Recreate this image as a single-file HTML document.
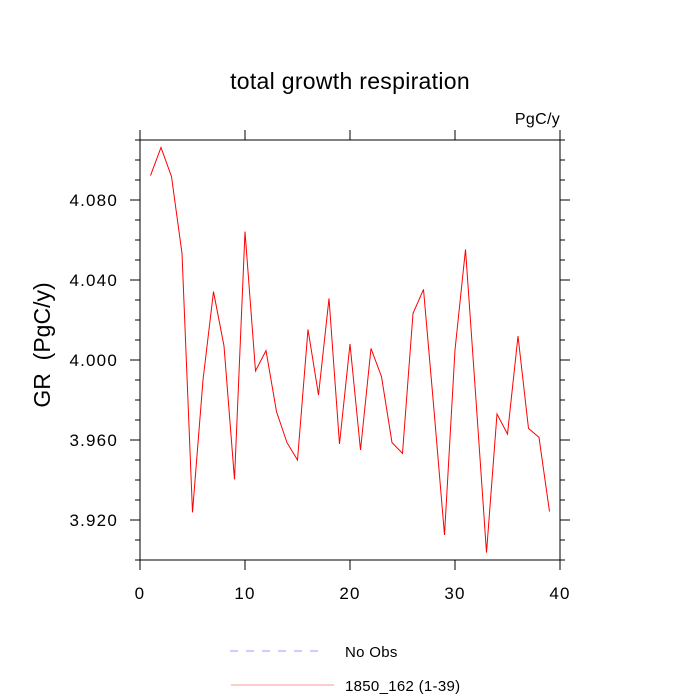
<!DOCTYPE html>
<html><head><meta charset="utf-8"><style>body{margin:0;background:#fff}svg{display:block;font-family:"Liberation Sans",sans-serif}</style></head>
<body>
<svg id="chart" width="700" height="700" viewBox="0 0 700 700">
<text x="350" y="89" font-size="23" letter-spacing="0.3" text-anchor="middle">total growth respiration</text>
<text x="560" y="124" font-size="16" letter-spacing="0.3" text-anchor="end">PgC/y</text>
<text transform="translate(50,345) rotate(-90)" font-size="23" text-anchor="middle">GR&#160;&#160;(PgC/y)</text>
<g id="axes"></g>
<polyline id="series" fill="none" stroke="#ff0000" stroke-width="1"/>
<rect x="140" y="140" width="420" height="420" fill="none" stroke="#000" stroke-width="1"/>
<g>
<line x1="230" y1="651" x2="326" y2="651" stroke="#9999ff" stroke-dasharray="8,8"/>
<text x="345" y="657" font-size="15" letter-spacing="0.3">No Obs</text>
<line x1="231" y1="685" x2="334" y2="685" stroke="#ff9999"/>
<text x="345" y="691" font-size="15" letter-spacing="0.3">1850_162 (1-39)</text>
</g>
</svg>
<script>
const years = [1,2,3,4,5,6,7,8,9,10,11,12,13,14,15,16,17,18,19,20,21,22,23,24,25,26,27,28,29,30,31,32,33,34,35,36,37,38,39];
const values = [4.0922,4.1063,4.0917,4.0533,3.9238,3.990,4.0342,4.007,3.9403,4.0642,3.9945,4.0047,3.9742,3.9587,3.950,4.0153,3.9825,4.0308,3.958,4.008,3.955,4.0058,3.9917,3.9587,3.9533,4.0233,4.0353,3.975,3.9125,4.005,4.0553,3.980,3.9037,3.973,3.963,4.012,3.9658,3.9613,3.9242];
const xTicks = [0,10,20,30,40];
const yTicks = [3.920,3.960,4.000,4.040,4.080];
const yLabels = ["3.920","3.960","4.000","4.040","4.080"];
const X0=140,X1=560,Y0=560,Y1=140,xmin=0,xmax=40,ymin=3.900,ymax=4.110;
const sx=v=>X0+(v-xmin)/(xmax-xmin)*(X1-X0);
const sy=v=>Y0-(v-ymin)/(ymax-ymin)*(Y0-Y1);
const NS="http://www.w3.org/2000/svg";
const g=document.getElementById('axes');
function ln(x1,y1,x2,y2,name){const l=document.createElementNS(NS,'line');
l.setAttribute('x1',x1);l.setAttribute('y1',y1);l.setAttribute('x2',x2);l.setAttribute('y2',y2);
l.setAttribute('stroke','#000');l.setAttribute('stroke-width','1');


g.appendChild(l);}
function tx(x,y,s,anchor,name){const t=document.createElementNS(NS,'text');
t.setAttribute('x',x);t.setAttribute('y',y);t.setAttribute('font-size','17');t.setAttribute('letter-spacing','1.2');t.setAttribute('text-anchor',anchor);t.textContent=s;


g.appendChild(t);}
xTicks.forEach(v=>{const x=sx(v);ln(x,Y0,x,Y0+10,'x-tick');ln(x,Y1,x,Y1-10,'x-tick-top');tx(x,Y0+39,String(v),'middle','x-tick-label');});
for(let v=3.90;v<=4.1101;v+=0.01){const y=sy(v);ln(X0,y,X0-5,y,'y-minor-tick');ln(X1,y,X1+5,y,'y-minor-tick-right');}
yTicks.forEach((v,i)=>{const y=sy(v);ln(X0,y,X0-10,y,'y-tick');ln(X1,y,X1+10,y,'y-tick-right');tx(X0-22,y+6,yLabels[i],'end','y-tick-label');});
document.getElementById('series').setAttribute('points',years.map((y,i)=>sx(y)+','+sy(values[i])).join(' '));
</script>
</body></html>
